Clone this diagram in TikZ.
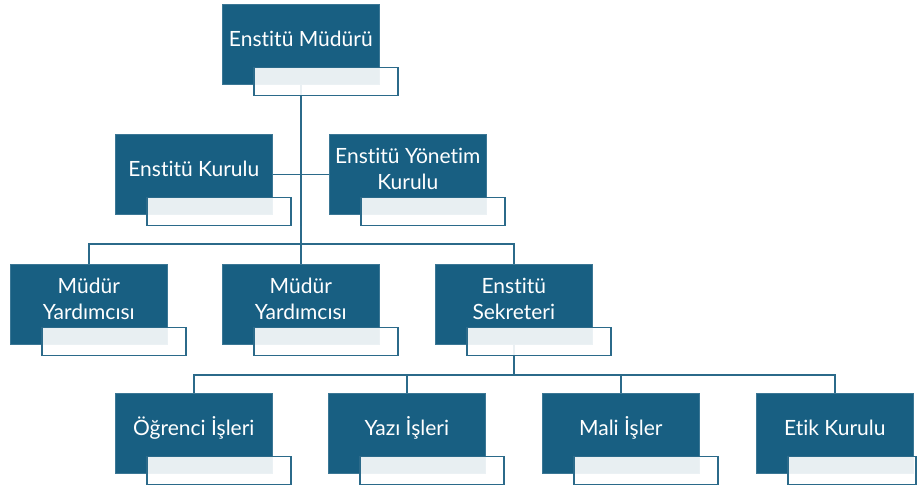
\documentclass[tikz,border=0pt]{standalone}
\usepackage{fontspec}
\setmainfont{Lato}[Ligatures=NoCommon]
\pgfdeclarelayer{bg}
\pgfsetlayers{bg,main}
\definecolor{dk}{HTML}{185F82}
\definecolor{ln}{HTML}{2B6A8A}
\tikzset{
 dbox/.style={fill=dk, draw=dk!85!white, line width=0.6pt, minimum width=157pt, minimum height=80pt, inner sep=0pt, anchor=north west},
 lbox/.style={fill=white, fill opacity=0.9, draw=ln, line width=1.5pt, minimum width=144pt, minimum height=28pt, inner sep=0pt, anchor=north west},
 lbl/.style={text=white, font=\fontsize{21}{26}\selectfont, align=center, inner sep=0pt},
 conn/.style={draw=ln, line width=1.6pt}
}
\newcommand\orgbox[5][]{%
 \node[dbox] (#2) at (#3,#4) {};
 \node[lbox,#1] (#2l) at ([xshift=31pt,yshift=18pt]#2.south west) {};
 \node[lbl] (#2t) at ([yshift=-35pt]#2.north) {#5};
}
\begin{document}
\begin{tikzpicture}[x=1pt,y=-1pt]
\useasboundingbox (0,0) rectangle (917,487);
\orgbox{top}{222}{4}{Enstitü Müdürü}
\orgbox{ek}{115}{134}{Enstitü Kurulu}
\orgbox{eyk}{329}{134}{Enstitü Yönetim\\Kurulu}
\orgbox{mya}{10}{264}{Müdür\\Yardımcısı}
\orgbox{myb}{222}{264}{Müdür\\Yardımcısı}
\orgbox{sek}{435}{264}{Enstitü\\Sekreteri}
\orgbox{ogr}{115}{393}{Öğrenci İşleri}
\orgbox{yazi}{328}{393}{Yazı İşleri}
\orgbox{mali}{542}{393}{Mali İşler}
\orgbox[minimum width=128pt]{etik}{756}{393}{Etik Kurulu}
\coordinate (h1) at (301,244);
\coordinate (h2) at (513,375);
\begin{pgfonlayer}{bg}
\draw[conn] (top.center) -- (top.center |- h1);
\draw[conn] (ek.east) -- (eyk.west);
\draw[conn] (mya.north) -- (mya.north |- h1) -| (sek.north);
\draw[conn] (myb.north) -- (myb.north |- h1);
\draw[conn] (sek.center) -- (sek.center |- h2);
\draw[conn] (ogr.north) -- (ogr.north |- h2) -| (etik.north);
\draw[conn] (yazi.north) -- (yazi.north |- h2);
\draw[conn] (mali.north) -- (mali.north |- h2);
\end{pgfonlayer}
\end{tikzpicture}
\end{document}
